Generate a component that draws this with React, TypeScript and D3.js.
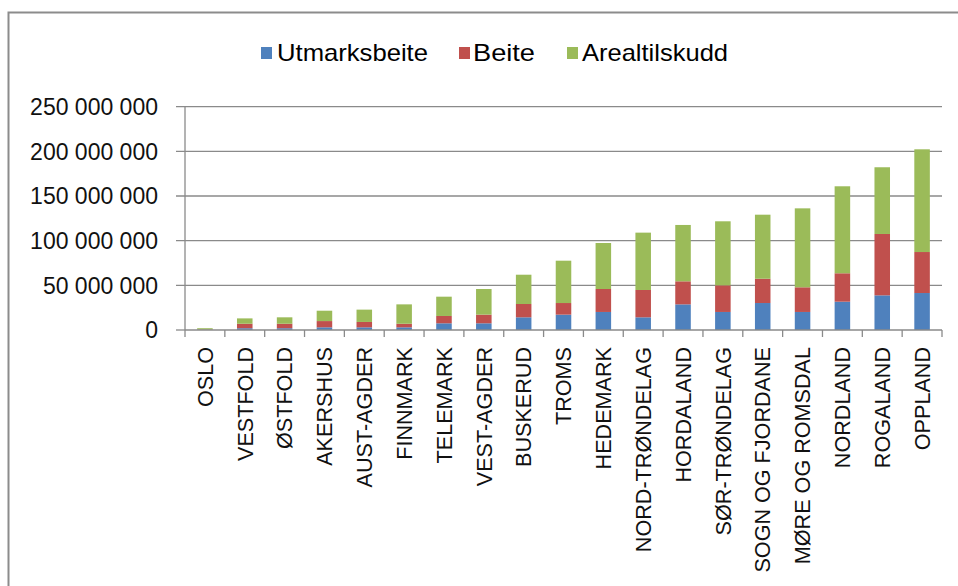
import React from "react";
import * as d3 from "d3";

const categories = [
  "OSLO", "VESTFOLD", "ØSTFOLD", "AKERSHUS", "AUST-AGDER", "FINNMARK", "TELEMARK",
  "VEST-AGDER", "BUSKERUD", "TROMS", "HEDEMARK", "NORD-TRØNDELAG", "HORDALAND",
  "SØR-TRØNDELAG", "SOGN OG FJORDANE", "MØRE OG ROMSDAL", "NORDLAND", "ROGALAND", "OPPLAND",
];
const utmarksbeite = [0.2, 2, 2, 3, 3, 3, 7.5, 7.5, 14.2, 17.2, 20.2, 14.2, 28.7, 20.2, 30.2, 20.2, 31.7, 38.8, 41.4].map((v) => v * 1e6);
const beite = [0.3, 5, 5, 7, 6, 4, 8.2, 9.7, 14.9, 13, 25.7, 30.6, 25.8, 29.8, 27.2, 27.6, 31.8, 68.7, 45.9].map((v) => v * 1e6);
const arealtilskudd = [1.5, 6, 7.2, 11.6, 13.8, 21.7, 21.6, 28.7, 32.8, 47.4, 51.5, 64.2, 63.1, 71.7, 71.7, 88.4, 97.4, 74.7, 115].map((v) => v * 1e6);
const seriesNames = ["Utmarksbeite", "Beite", "Arealtilskudd"];
const seriesColors = ["#4F81BD", "#C0504D", "#9BBB59"];
const yTicks = [0, 50e6, 100e6, 150e6, 200e6, 250e6];

export default function App() {
  const left = 185, right = 942, top = 106.7, bottom = 330;
  const x = d3.scaleBand<string>().domain(categories).range([left, right]).paddingInner(0.61).paddingOuter(0.305);
  const xb = d3.scaleBand<string>().domain(categories).range([left, right]);
  const y = d3.scaleLinear().domain([0, 250e6]).range([bottom, top]);
  const data = categories.map((c, i) => ({ cat: c, Utmarksbeite: utmarksbeite[i], Beite: beite[i], Arealtilskudd: arealtilskudd[i] }));
  const stacked = d3.stack<any>().keys(seriesNames)(data);
  const fmt = (v: number) => d3.format(",")(v).replace(/,/g, " ");
  const gridColor = "#8a8a8a";
  const font = "'Liberation Sans', Arial, sans-serif";

  const legendItems = [
    { name: "Utmarksbeite", sx: 261, tx: 277, w: 151 },
    { name: "Beite", sx: 459, tx: 473, w: 62 },
    { name: "Arealtilskudd", sx: 567, tx: 582, w: 146 },
  ];

  return (
    <svg width={958} height={586} style={{ position: "absolute", left: 0, top: 0, background: "#fff" }} fontFamily={font}>
      <rect x={8.5} y={12.5} width={1000} height={700} fill="#fff" stroke="#8c8c8c" strokeWidth={2} />
      {/* legend */}
      {legendItems.map((l, i) => (
        <g key={l.name}>
          <rect x={l.sx} y={47} width={11} height={12} fill={seriesColors[i]} />
          <text x={l.tx} y={61} fontSize={24} fill="#000" textLength={l.w} lengthAdjust="spacingAndGlyphs">{l.name}</text>
        </g>
      ))}
      {/* grid */}
      {yTicks.map((t) => (
        <g key={t}>
          <line x1={176} x2={t === 0 ? left : right} y1={y(t)} y2={y(t)} stroke={gridColor} strokeWidth={1.3} />
          <text x={158} y={y(t)} dy="0.36em" textAnchor="end" fontSize={23} fill="#111">{fmt(t)}</text>
        </g>
      ))}
      {/* bars */}
      {stacked.map((s, si) => (
        <g key={s.key} fill={seriesColors[si]}>
          {s.map((d: any, i: number) => (
            <rect key={i} x={x(categories[i])} width={x.bandwidth()} y={y(d[1])} height={Math.max(0, y(d[0]) - y(d[1]))} />
          ))}
        </g>
      ))}
      {/* axes */}
      <line x1={left} x2={left} y1={top} y2={bottom} stroke={gridColor} strokeWidth={1.3} />
      <line x1={left} x2={right} y1={bottom} y2={bottom} stroke={gridColor} strokeWidth={1.3} />
      {categories.map((c) => (
        <line key={c} x1={xb(c)!} x2={xb(c)!} y1={bottom} y2={bottom + 7} stroke={gridColor} strokeWidth={1.3} />
      ))}
      <line x1={right} x2={right} y1={bottom} y2={bottom + 7} stroke={gridColor} strokeWidth={1.3} />
      {categories.map((c) => (
        <text key={c} transform={`translate(${xb(c)! + xb.bandwidth() / 2},${bottom + 17}) rotate(-90)`} textAnchor="end" dy="0.36em" fontSize={21.6} fill="#111">{c}</text>
      ))}
    </svg>
  );
}
